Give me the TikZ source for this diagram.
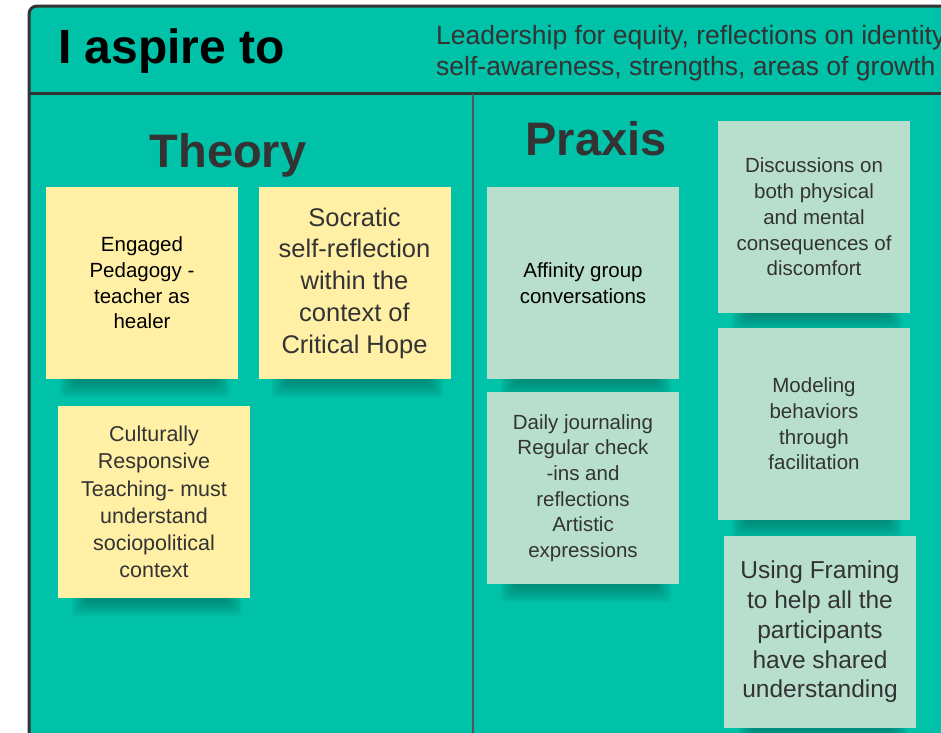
\documentclass[tikz,border=0pt]{standalone}
\usepackage{fontspec}
\setmainfont{Liberation Sans}
\definecolor{teal0}{HTML}{00C2A9}
\definecolor{frameC}{HTML}{333333}
\definecolor{divC}{HTML}{555555}
\definecolor{noteY}{HTML}{FFF0A6}
\definecolor{noteG}{HTML}{B8DFCE}
\definecolor{txtC}{HTML}{333333}
\definecolor{shadC}{HTML}{00564A}
\tikzset{
  note/.style={inner sep=0pt, minimum width=192pt, minimum height=192pt, align=center, text=txtC},
  ynote/.style={note, fill=noteY},
  gnote/.style={note, fill=noteG},
  heading/.style={font=\fontsize{47}{50}\selectfont\bfseries, text=txtC, inner sep=0pt}
}
% shadow below a note: #1 = left x, #2 = right x, #3 = bottom y
\newcommand{\nshadow}[3]{%
  \foreach \i in {0,...,7}{%
    \fill[shadC, opacity=0.075, rounded corners=4pt]
      ({#1+14+2.2*\i},{#3-4}) rectangle ({#2-8-2.2*\i},{#3+18-2.2*\i});
  }}
\begin{document}
\begin{tikzpicture}[x=1pt,y=-1pt]
\useasboundingbox (0,0) rectangle (941,732);
\clip (0,0) rectangle (941,732);
\fill[teal0, rounded corners=8pt] (29,6) rectangle (980,780);
\draw[frameC, line width=3pt, rounded corners=8pt] (29,780) -- (29,6) -- (980,6);
\draw[frameC, line width=3pt] (29,93) -- (980,93);
\draw[divC, line width=2pt] (473,94) -- (473,780);
% header
\node[anchor=west, inner sep=0pt, font=\fontsize{48}{50}\selectfont\bfseries, text=black] (title) at (58,51) {I aspire to};
\node[anchor=north west, inner sep=0pt, align=left, text=txtC, font=\fontsize{26.5}{31.5}\selectfont] (sub) at (436,25) {Leadership for equity, reflections on identity,\\self-awareness, strengths, areas of growth};
% headings
\node[heading] (theory) at (228,155) {Theory};
\node[heading] (praxis) at (596,139) {Praxis};
% shadows
\nshadow{46}{238}{379}
\nshadow{258}{451}{379}
\nshadow{58}{250}{598}
\nshadow{487}{679}{379}
\nshadow{487}{679}{584}
\nshadow{718}{910}{313}
\nshadow{718}{910}{520}
\nshadow{724}{916}{728}
% theory notes
\node[ynote, text=black, font=\fontsize{20.5}{25.7}\selectfont] (eng) at (142,283) {\raisebox{2pt}{}Engaged\\Pedagogy -\\teacher as\\healer};
\node[ynote, font=\fontsize{25.5}{31.7}\selectfont] (soc) at (354.5,283) {Socratic\\self-reflection\\within the\\context of\\Critical Hope};
\node[ynote, font=\fontsize{21.5}{27.2}\selectfont] (crt) at (154,502) {Culturally\\Responsive\\Teaching- must\\understand\\sociopolitical\\context};
% praxis notes
\node[gnote, text=black, font=\fontsize{20.5}{25.7}\selectfont] (aff) at (583,283) {Affinity group\\conversations};
\node[gnote, font=\fontsize{20.5}{25.7}\selectfont] (daily) at (583,488) {Daily journaling\\Regular check\\-ins and\\reflections\\Artistic\\expressions};
\node[gnote, font=\fontsize{20.5}{25.7}\selectfont] (disc) at (814,217) {Discussions on\\both physical\\and mental\\consequences of\\discomfort};
\node[gnote, font=\fontsize{20.5}{25.7}\selectfont] (model) at (814,424) {Modeling\\behaviors\\through\\facilitation};
\node[gnote, font=\fontsize{24.5}{29.8}\selectfont] (frame) at (820,632) {Using Framing\\to help all the\\participants\\have shared\\understanding};
\end{tikzpicture}
\end{document}
